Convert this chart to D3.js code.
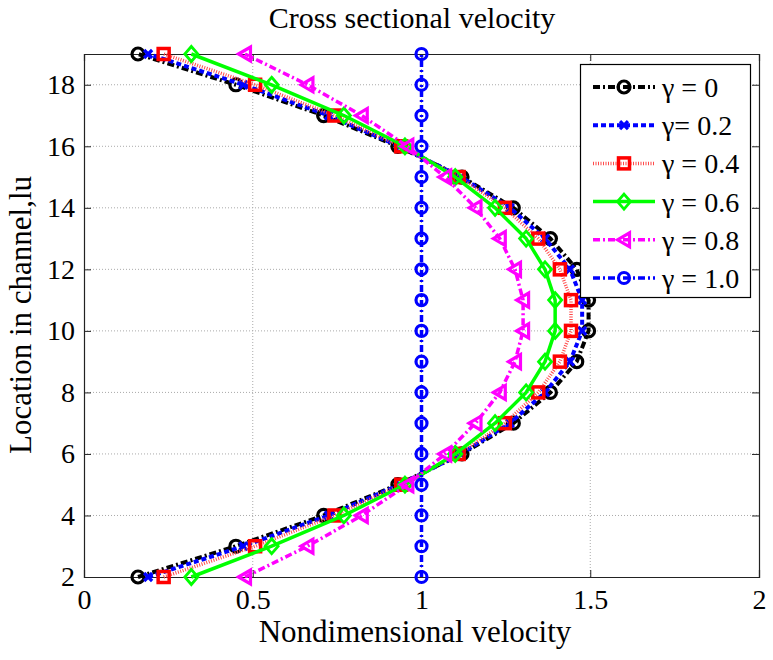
<!DOCTYPE html>
<html><head><meta charset="utf-8">
<script src="https://cdn.jsdelivr.net/npm/d3@7"></script>
<style>body{margin:0;background:#fff}svg{display:block}text{font-family:"Liberation Serif","Times New Roman",serif;fill:#000}</style>
</head><body><svg id="c" width="773" height="660"></svg>
<script>
const locations = [2,3,4,5,6,7,8,9,10,11,12,13,14,15,16,17,18,19];
const gamma0  = [0.16,0.45,0.71,0.93,1.12,1.272,1.382,1.46,1.495,1.495,1.46,1.382,1.272,1.12,0.93,0.71,0.45,0.16];
const gamma02 = [0.19,0.472,0.725,0.935,1.117,1.262,1.366,1.44,1.476,1.476,1.44,1.366,1.262,1.117,0.935,0.725,0.472,0.19];
const gamma04 = [0.236,0.507,0.742,0.94,1.11,1.247,1.346,1.41,1.443,1.443,1.41,1.346,1.247,1.11,0.94,0.742,0.507,0.236];
const gamma06 = [0.318,0.556,0.77,0.951,1.1,1.218,1.31,1.366,1.396,1.396,1.366,1.31,1.218,1.1,0.951,0.77,0.556,0.318];
const gamma08 = [0.477,0.662,0.823,0.958,1.07,1.16,1.232,1.277,1.301,1.301,1.277,1.232,1.16,1.07,0.958,0.823,0.662,0.477];
const gamma10 = [1,1,1,1,1,1,1,1,1,1,1,1,1,1,1,1,1,1];
const seriesNames = ["γ = 0","γ= 0.2","γ = 0.4","γ = 0.6","γ = 0.8","γ = 1.0"];
const xTicks = [0,0.5,1,1.5,2];
const xTickLabels = ["0","0.5","1","1.5","2"];
const yTicks = [2,4,6,8,10,12,14,16,18];
const titleText = "Cross sectional velocity";
const xLabel = "Nondimensional velocity";
const yLabel = "Location in channel,lu";

const FONT = '"Liberation Serif","Times New Roman",serif';
const styles = [
  {color:"#000000", dash:"7,3,2,3", width:4, marker:"circle"},
  {color:"#0000ff", dash:"5,3", width:4, marker:"x"},
  {color:"#ff4a4a", dash:"1,1.5", width:3.5, marker:"square"},
  {color:"#00ff00", dash:null, width:3.5, marker:"diamond"},
  {color:"#ff00ff", dash:"7,3,2,3", width:3.5, marker:"triangle"},
  {color:"#0000ff", dash:"7,3,2,3", width:3.5, marker:"circle2"}
];
const allSeries = [gamma0,gamma02,gamma04,gamma06,gamma08,gamma10];

const L=84,R=759,T=54,B=577;
const x = d3.scaleLinear().domain([0,2]).range([L,R]);
const y = d3.scaleLinear().domain([2,19]).range([B,T]);
const svg = d3.select("#c");

// grid
const g = svg.append("g");
g.selectAll(".gx").data(xTicks.slice(1,-1)).join("line")
  .attr("x1",d=>x(d)).attr("x2",d=>x(d)).attr("y1",T).attr("y2",B)
  .attr("stroke","#aaaaaa").attr("stroke-width",1).attr("stroke-dasharray","1,2");
g.selectAll(".gy").data(yTicks.slice(1)).join("line")
  .attr("x1",L).attr("x2",R).attr("y1",d=>y(d)).attr("y2",d=>y(d))
  .attr("stroke","#aaaaaa").attr("stroke-width",1).attr("stroke-dasharray","1,2");

// axes
const xAxisB = d3.axisBottom(x).tickValues(xTicks).tickSize(-7).tickPadding(12).tickFormat((d,i)=>xTickLabels[i]);
const xAxisT = d3.axisTop(x).tickValues(xTicks).tickSize(-7).tickFormat("");
const yAxisL = d3.axisLeft(y).tickValues(yTicks).tickSize(-7).tickPadding(9).tickFormat(d3.format("d"));
const yAxisR = d3.axisRight(y).tickValues(yTicks).tickSize(-7).tickFormat("");
function styleAxis(sel){
  sel.attr("font-family",null).attr("font-size",null);
  sel.select(".domain").attr("stroke","#222").attr("stroke-width",1.2);
  sel.selectAll(".tick line").attr("stroke","#222");
  sel.selectAll(".tick text").style("font-size","28px").style("font-family",FONT).attr("fill","#000");
}
svg.append("g").attr("transform",`translate(0,${B})`).call(xAxisB).call(styleAxis);
svg.append("g").attr("transform",`translate(0,${T})`).call(xAxisT).call(styleAxis);
svg.append("g").attr("transform",`translate(${L},0)`).call(yAxisL).call(styleAxis);
svg.append("g").attr("transform",`translate(${R},0)`).call(yAxisR).call(styleAxis);

function drawMarker(sel, type, color, cx, cy){
  if(type==="circle"){
    sel.append("circle").attr("cx",cx).attr("cy",cy).attr("r",6).attr("fill","none").attr("stroke",color).attr("stroke-width",3.2);
  } else if(type==="circle2"){
    sel.append("circle").attr("cx",cx).attr("cy",cy).attr("r",5.5).attr("fill","none").attr("stroke",color).attr("stroke-width",3.2);
  } else if(type==="x"){
    const s=4;
    sel.append("path").attr("d",`M${cx-s},${cy-s}L${cx+s},${cy+s}M${cx-s},${cy+s}L${cx+s},${cy-s}`).attr("stroke",color).attr("stroke-width",3.2).attr("fill","none");
  } else if(type==="square"){
    sel.append("rect").attr("x",cx-5.5).attr("y",cy-5.5).attr("width",11).attr("height",11).attr("fill","none").attr("stroke","#ff0000").attr("stroke-width",3.5);
  } else if(type==="diamond"){
    sel.append("path").attr("d",`M${cx},${cy-7.5}L${cx+6.5},${cy}L${cx},${cy+7.5}L${cx-6.5},${cy}Z`).attr("fill","none").attr("stroke",color).attr("stroke-width",2.8);
  } else if(type==="triangle"){
    sel.append("path").attr("d",`M${cx-6.5},${cy}L${cx+5.5},${cy-7}L${cx+5.5},${cy+7}Z`).attr("fill","none").attr("stroke",color).attr("stroke-width",3.2);
  }
}

const line = d3.line().x(d=>x(d[0])).y(d=>y(d[1]));
const plot = svg.append("g");
allSeries.forEach((vals,i)=>{
  const st=styles[i];
  const pts = vals.map((v,j)=>[v,locations[j]]);
  const gs = plot.append("g");
  gs.append("path").datum(pts).attr("d",line).attr("fill","none")
    .attr("stroke",st.color).attr("stroke-width",st.width)
    .attr("stroke-dasharray",st.dash).attr("stroke-linejoin","round");
  pts.forEach(p=>drawMarker(gs, st.marker, st.color, x(p[0]), y(p[1])));
});

// legend
const lg = svg.append("g");
lg.append("rect").attr("x",580.5).attr("y",64.5).attr("width",170).attr("height",233)
  .attr("fill","#fff").attr("stroke","#000").attr("stroke-width",1.2);
seriesNames.forEach((name,i)=>{
  const st=styles[i];
  const cy = 87 + i*38.2;
  const gi = lg.append("g");
  gi.append("line").attr("x1",593).attr("x2",655).attr("y1",cy).attr("y2",cy)
    .attr("stroke",st.color).attr("stroke-width",st.width).attr("stroke-dasharray",st.dash);
  drawMarker(gi, st.marker, st.color, 624, cy);
  gi.append("text").attr("x",662).attr("y",cy+10).style("font-size","28px").style("font-family",FONT).text(name);
});

// titles
svg.append("text").attr("x",412).attr("y",28).attr("text-anchor","middle").style("font-size","30px").style("font-family",FONT).text(titleText);
svg.append("text").attr("x",415).attr("y",642).attr("text-anchor","middle").style("font-size","31px").style("font-family",FONT).text(xLabel);
svg.append("text").attr("transform",`translate(31,315) rotate(-90)`).attr("text-anchor","middle").style("font-size","31px").style("font-family",FONT).text(yLabel);
</script></body></html>
